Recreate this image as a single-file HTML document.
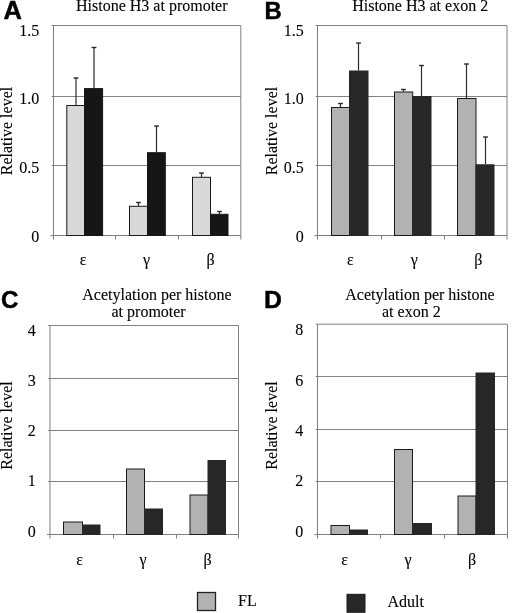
<!DOCTYPE html>
<html><head><meta charset="utf-8"><title>Figure</title>
<style>
html,body{margin:0;padding:0;background:#fff;}
body{width:520px;height:613px;overflow:hidden;font-family:"Liberation Serif",serif;}
svg{display:block;filter:grayscale(1);}
text{fill:#000;}
.sf{font-family:"Liberation Serif",serif;font-size:16px;stroke:#000;stroke-width:0.1px;}
.ss{font-family:"Liberation Sans",sans-serif;font-size:25.5px;font-weight:bold;stroke:#000;stroke-width:0.45px;}
</style></head><body>
<svg width="520" height="613" viewBox="0 0 520 613">
<rect x="0" y="0" width="520" height="613" fill="#ffffff"/>
<line x1="51.7" y1="25.5" x2="240.8" y2="25.5" stroke="#808080" stroke-width="1"/>
<line x1="51.7" y1="96.5" x2="240.8" y2="96.5" stroke="#808080" stroke-width="1"/>
<line x1="51.7" y1="165.5" x2="240.8" y2="165.5" stroke="#808080" stroke-width="1"/>
<line x1="53.5" y1="25.5" x2="53.5" y2="239.5" stroke="#808080" stroke-width="1"/>
<line x1="240.8" y1="25.5" x2="240.8" y2="239.5" stroke="#808080" stroke-width="1"/>
<line x1="50.5" y1="235.5" x2="240.8" y2="235.5" stroke="#808080" stroke-width="1"/>
<line x1="115.5" y1="235.5" x2="115.5" y2="239.5" stroke="#808080" stroke-width="1"/>
<line x1="178.5" y1="235.5" x2="178.5" y2="239.5" stroke="#808080" stroke-width="1"/>
<rect x="66.8" y="105.5" width="17.700000000000003" height="130.0" fill="#d9d9d9" stroke="#1a1a1a" stroke-width="1"/>
<rect x="84.5" y="88.6" width="18.099999999999994" height="146.9" fill="#161616" stroke="#161616" stroke-width="1"/>
<rect x="129.5" y="206.3" width="18.0" height="29.19999999999999" fill="#d9d9d9" stroke="#1a1a1a" stroke-width="1"/>
<rect x="147.5" y="152.7" width="17.80000000000001" height="82.80000000000001" fill="#161616" stroke="#161616" stroke-width="1"/>
<rect x="192.5" y="177.3" width="18.0" height="58.19999999999999" fill="#d9d9d9" stroke="#1a1a1a" stroke-width="1"/>
<rect x="210.5" y="214.3" width="17.5" height="21.19999999999999" fill="#161616" stroke="#161616" stroke-width="1"/>
<line x1="76" y1="78" x2="76" y2="105.5" stroke="#2a2a2a" stroke-width="1.2"/>
<line x1="73.6" y1="78" x2="78.4" y2="78" stroke="#2a2a2a" stroke-width="1.4"/>
<line x1="94" y1="47.5" x2="94" y2="88.6" stroke="#2a2a2a" stroke-width="1.2"/>
<line x1="91.6" y1="47.5" x2="96.4" y2="47.5" stroke="#2a2a2a" stroke-width="1.4"/>
<line x1="138.5" y1="202.5" x2="138.5" y2="206" stroke="#2a2a2a" stroke-width="1.2"/>
<line x1="136.1" y1="202.5" x2="140.9" y2="202.5" stroke="#2a2a2a" stroke-width="1.4"/>
<line x1="156.5" y1="126" x2="156.5" y2="152.5" stroke="#2a2a2a" stroke-width="1.2"/>
<line x1="154.1" y1="126" x2="158.9" y2="126" stroke="#2a2a2a" stroke-width="1.4"/>
<line x1="201.5" y1="173" x2="201.5" y2="177" stroke="#2a2a2a" stroke-width="1.2"/>
<line x1="199.1" y1="173" x2="203.9" y2="173" stroke="#2a2a2a" stroke-width="1.4"/>
<line x1="219.5" y1="211.5" x2="219.5" y2="214" stroke="#2a2a2a" stroke-width="1.2"/>
<line x1="217.1" y1="211.5" x2="221.9" y2="211.5" stroke="#2a2a2a" stroke-width="1.4"/>
<text class="sf" x="39.3" y="35.5" text-anchor="end" >1.5</text>
<text class="sf" x="39.3" y="104" text-anchor="end" >1.0</text>
<text class="sf" x="39.3" y="173" text-anchor="end" >0.5</text>
<text class="sf" x="39.3" y="241.5" text-anchor="end" >0</text>
<text class="sf" x="83" y="264.5" text-anchor="middle" >ε</text>
<text class="sf" x="146.5" y="264.5" text-anchor="middle" >γ</text>
<text class="sf" x="210.5" y="264.5" text-anchor="middle" >β</text>
<text class="sf" x="76" y="11.4" text-anchor="start" >Histone H3 at promoter</text>
<text class="ss" x="3.6" y="19.1" text-anchor="start" style="font-size:25.5px">A</text>
<text class="sf" transform="translate(11.6,131) rotate(-90)" text-anchor="middle">Relative level</text>
<line x1="315.7" y1="25.5" x2="507" y2="25.5" stroke="#808080" stroke-width="1"/>
<line x1="315.7" y1="96.5" x2="507" y2="96.5" stroke="#808080" stroke-width="1"/>
<line x1="315.7" y1="165.5" x2="507" y2="165.5" stroke="#808080" stroke-width="1"/>
<line x1="317.5" y1="25.5" x2="317.5" y2="239.5" stroke="#808080" stroke-width="1"/>
<line x1="507" y1="25.5" x2="507" y2="239.5" stroke="#808080" stroke-width="1"/>
<line x1="314.5" y1="235.5" x2="507" y2="235.5" stroke="#808080" stroke-width="1"/>
<line x1="381.5" y1="235.5" x2="381.5" y2="239.5" stroke="#808080" stroke-width="1"/>
<line x1="444.5" y1="235.5" x2="444.5" y2="239.5" stroke="#808080" stroke-width="1"/>
<rect x="331.5" y="107.5" width="18.0" height="128.0" fill="#b2b2b2" stroke="#1a1a1a" stroke-width="1"/>
<rect x="349.5" y="71" width="18.5" height="164.5" fill="#272727" stroke="#272727" stroke-width="1"/>
<rect x="394.5" y="92" width="18.19999999999999" height="143.5" fill="#b2b2b2" stroke="#1a1a1a" stroke-width="1"/>
<rect x="412.7" y="96.5" width="18.30000000000001" height="139.0" fill="#272727" stroke="#272727" stroke-width="1"/>
<rect x="457.5" y="98.5" width="18.5" height="137.0" fill="#b2b2b2" stroke="#1a1a1a" stroke-width="1"/>
<rect x="476" y="164.8" width="18" height="70.69999999999999" fill="#272727" stroke="#272727" stroke-width="1"/>
<line x1="340.5" y1="103.5" x2="340.5" y2="107" stroke="#2a2a2a" stroke-width="1.2"/>
<line x1="338.1" y1="103.5" x2="342.9" y2="103.5" stroke="#2a2a2a" stroke-width="1.4"/>
<line x1="358.5" y1="43" x2="358.5" y2="70.5" stroke="#2a2a2a" stroke-width="1.2"/>
<line x1="356.1" y1="43" x2="360.9" y2="43" stroke="#2a2a2a" stroke-width="1.4"/>
<line x1="403.5" y1="89.5" x2="403.5" y2="91.5" stroke="#2a2a2a" stroke-width="1.2"/>
<line x1="401.1" y1="89.5" x2="405.9" y2="89.5" stroke="#2a2a2a" stroke-width="1.4"/>
<line x1="421.5" y1="65.5" x2="421.5" y2="96.5" stroke="#2a2a2a" stroke-width="1.2"/>
<line x1="419.1" y1="65.5" x2="423.9" y2="65.5" stroke="#2a2a2a" stroke-width="1.4"/>
<line x1="466.5" y1="64" x2="466.5" y2="98.5" stroke="#2a2a2a" stroke-width="1.2"/>
<line x1="464.1" y1="64" x2="468.9" y2="64" stroke="#2a2a2a" stroke-width="1.4"/>
<line x1="485.5" y1="137" x2="485.5" y2="164" stroke="#2a2a2a" stroke-width="1.2"/>
<line x1="483.1" y1="137" x2="487.9" y2="137" stroke="#2a2a2a" stroke-width="1.4"/>
<text class="sf" x="303.8" y="35.5" text-anchor="end" >1.5</text>
<text class="sf" x="303.8" y="104" text-anchor="end" >1.0</text>
<text class="sf" x="303.8" y="173" text-anchor="end" >0.5</text>
<text class="sf" x="303.8" y="241.5" text-anchor="end" >0</text>
<text class="sf" x="350.3" y="264.5" text-anchor="middle" >ε</text>
<text class="sf" x="414.2" y="264.5" text-anchor="middle" >γ</text>
<text class="sf" x="478.4" y="264.5" text-anchor="middle" >β</text>
<text class="sf" x="352.2" y="11.4" text-anchor="start" >Histone H3 at exon 2</text>
<text class="ss" x="264.5" y="18.6" text-anchor="start" style="font-size:23.8px">B</text>
<text class="sf" transform="translate(276.8,131) rotate(-90)" text-anchor="middle">Relative level</text>
<line x1="48.2" y1="325.5" x2="238.5" y2="325.5" stroke="#808080" stroke-width="1"/>
<line x1="48.2" y1="378.5" x2="238.5" y2="378.5" stroke="#808080" stroke-width="1"/>
<line x1="48.2" y1="430.5" x2="238.5" y2="430.5" stroke="#808080" stroke-width="1"/>
<line x1="48.2" y1="481.5" x2="238.5" y2="481.5" stroke="#808080" stroke-width="1"/>
<line x1="50" y1="325.5" x2="50" y2="538.5" stroke="#808080" stroke-width="1"/>
<line x1="238.5" y1="325.5" x2="238.5" y2="538.5" stroke="#808080" stroke-width="1"/>
<line x1="47" y1="534.5" x2="238.5" y2="534.5" stroke="#808080" stroke-width="1"/>
<line x1="113.5" y1="534.5" x2="113.5" y2="538.5" stroke="#808080" stroke-width="1"/>
<line x1="176.5" y1="534.5" x2="176.5" y2="538.5" stroke="#808080" stroke-width="1"/>
<rect x="63.5" y="522" width="19.0" height="12.5" fill="#b2b2b2" stroke="#1a1a1a" stroke-width="1"/>
<rect x="82.5" y="525" width="17.5" height="9.5" fill="#272727" stroke="#272727" stroke-width="1"/>
<rect x="126.5" y="469" width="18.0" height="65.5" fill="#b2b2b2" stroke="#1a1a1a" stroke-width="1"/>
<rect x="144.5" y="509" width="18.0" height="25.5" fill="#272727" stroke="#272727" stroke-width="1"/>
<rect x="190" y="495" width="18" height="39.5" fill="#b2b2b2" stroke="#1a1a1a" stroke-width="1"/>
<rect x="208" y="460.5" width="17.5" height="74.0" fill="#272727" stroke="#272727" stroke-width="1"/>
<text class="sf" x="35.8" y="335.5" text-anchor="end" >4</text>
<text class="sf" x="35.8" y="385.5" text-anchor="end" >3</text>
<text class="sf" x="35.8" y="436" text-anchor="end" >2</text>
<text class="sf" x="35.8" y="486" text-anchor="end" >1</text>
<text class="sf" x="35.8" y="536.75" text-anchor="end" >0</text>
<text class="sf" x="79.5" y="565" text-anchor="middle" >ε</text>
<text class="sf" x="143" y="565" text-anchor="middle" >γ</text>
<text class="sf" x="207.5" y="565" text-anchor="middle" >β</text>
<text class="sf" x="82.3" y="300" text-anchor="start" >Acetylation per histone</text>
<text class="sf" x="111.5" y="316.5" text-anchor="start" >at promoter</text>
<text class="ss" x="0.9" y="308.2" text-anchor="start" style="font-size:24.2px">C</text>
<text class="sf" transform="translate(11.6,425.5) rotate(-90)" text-anchor="middle">Relative level</text>
<line x1="315.7" y1="324.2" x2="507.5" y2="324.2" stroke="#808080" stroke-width="1"/>
<line x1="315.7" y1="376.5" x2="507.5" y2="376.5" stroke="#808080" stroke-width="1"/>
<line x1="315.7" y1="429.5" x2="507.5" y2="429.5" stroke="#808080" stroke-width="1"/>
<line x1="315.7" y1="481.5" x2="507.5" y2="481.5" stroke="#808080" stroke-width="1"/>
<line x1="317.5" y1="324.2" x2="317.5" y2="538.5" stroke="#808080" stroke-width="1"/>
<line x1="507.5" y1="324.2" x2="507.5" y2="538.5" stroke="#808080" stroke-width="1"/>
<line x1="314.5" y1="534.5" x2="507.5" y2="534.5" stroke="#808080" stroke-width="1"/>
<line x1="380.5" y1="534.5" x2="380.5" y2="538.5" stroke="#808080" stroke-width="1"/>
<line x1="444.5" y1="534.5" x2="444.5" y2="538.5" stroke="#808080" stroke-width="1"/>
<rect x="331" y="525.5" width="18.5" height="9.0" fill="#b2b2b2" stroke="#1a1a1a" stroke-width="1"/>
<rect x="349.5" y="530" width="18.0" height="4.5" fill="#272727" stroke="#272727" stroke-width="1"/>
<rect x="394.5" y="449.5" width="18.0" height="85.0" fill="#b2b2b2" stroke="#1a1a1a" stroke-width="1"/>
<rect x="412.5" y="523.5" width="19.0" height="11.0" fill="#272727" stroke="#272727" stroke-width="1"/>
<rect x="458" y="496" width="18" height="38.5" fill="#b2b2b2" stroke="#1a1a1a" stroke-width="1"/>
<rect x="476" y="373" width="18.5" height="161.5" fill="#272727" stroke="#272727" stroke-width="1"/>
<text class="sf" x="303.2" y="335.1" text-anchor="end" >8</text>
<text class="sf" x="303.2" y="385.5" text-anchor="end" >6</text>
<text class="sf" x="303.2" y="435.5" text-anchor="end" >4</text>
<text class="sf" x="303.2" y="486" text-anchor="end" >2</text>
<text class="sf" x="303.2" y="536.75" text-anchor="end" >0</text>
<text class="sf" x="344.5" y="565" text-anchor="middle" >ε</text>
<text class="sf" x="408" y="565" text-anchor="middle" >γ</text>
<text class="sf" x="472" y="565" text-anchor="middle" >β</text>
<text class="sf" x="345.3" y="300" text-anchor="start" >Acetylation per histone</text>
<text class="sf" x="382" y="316.5" text-anchor="start" >at exon 2</text>
<text class="ss" x="264.0" y="307.8" text-anchor="start" style="font-size:24.8px">D</text>
<text class="sf" transform="translate(276.8,425.5) rotate(-90)" text-anchor="middle">Relative level</text>
<rect x="197.5" y="592.5" width="18" height="18" fill="#b2b2b2" stroke="#222" stroke-width="1.3"/>
<text class="sf" x="238" y="606" text-anchor="start" >FL</text>
<rect x="347" y="594.3" width="18" height="18" fill="#272727" stroke="#1c1c1c" stroke-width="1"/>
<text class="sf" x="387.5" y="607" text-anchor="start" >Adult</text>
</svg>
</body></html>
